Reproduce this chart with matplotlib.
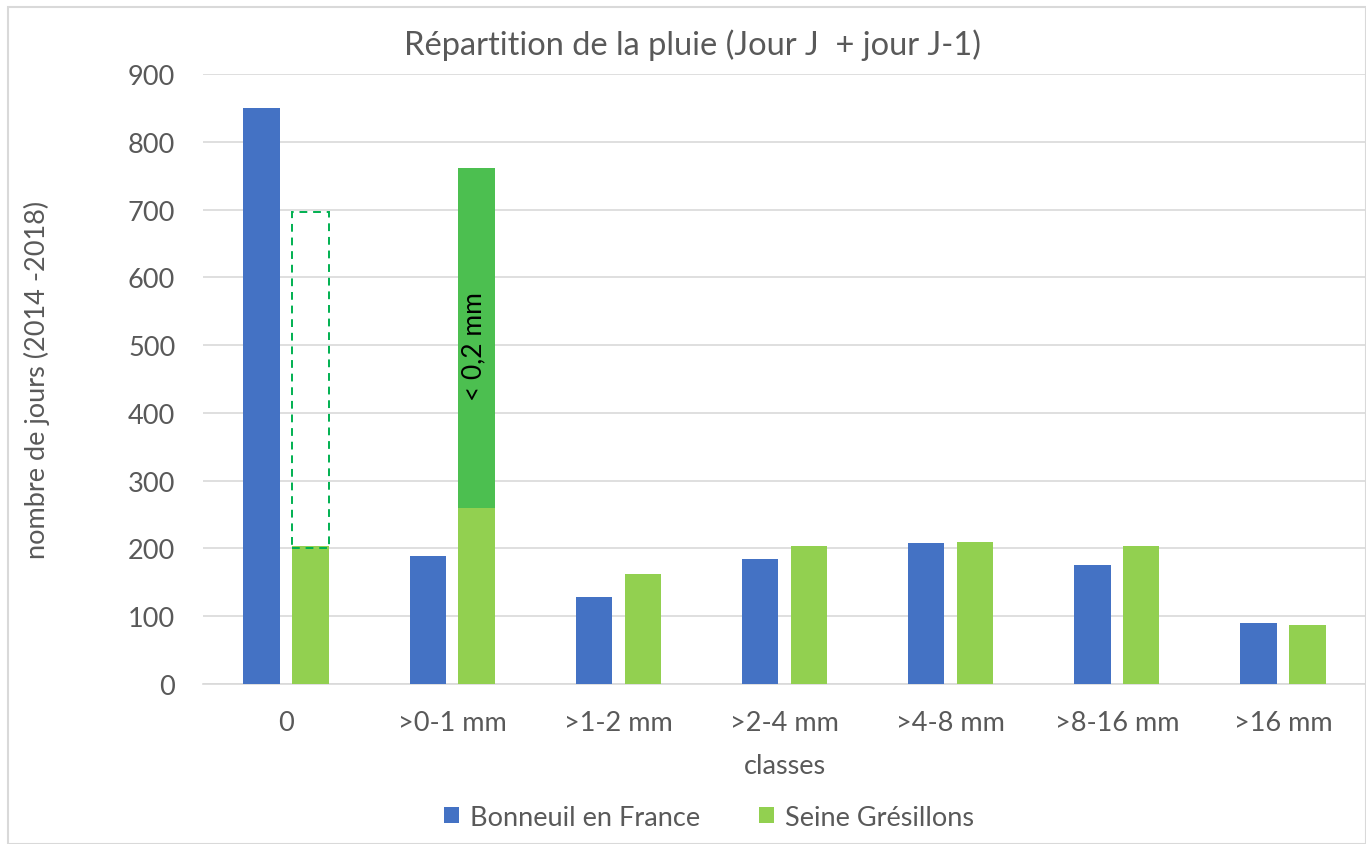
import numpy as np
import matplotlib.pyplot as plt
from matplotlib.patches import Rectangle

plt.rcParams['font.family'] = ['Lato', 'DejaVu Sans']

classes = ['0', '>0-1 mm', '>1-2 mm', '>2-4 mm', '>4-8 mm', '>8-16 mm', '>16 mm']
bonneuil = [850, 189, 129, 185, 208, 176, 90]
seine = [203, 260, 162, 204, 210, 204, 87]
# extra days under 0.2 mm counted in the >0-1 mm class for Seine Grésillons
seine_small = 501
# same amount removed from the "0" class (dashed outline)
seine_removed_top = 697

blue = '#4472C4'
green = '#92D050'
dark_green = '#4CBF50'
grey_txt = '#595959'
grid_col = '#D9D9D9'

x = np.arange(len(classes))
width = 0.22
off = 0.147

fig = plt.figure(figsize=(13.66, 8.45), dpi=100)
ax = fig.add_axes([203 / 1366, 1 - 685 / 845, (1366 - 203) / 1366, 610 / 845])

ax.bar(x - off, bonneuil, width, color=blue, label='Bonneuil en France', zorder=3)
ax.bar(x + off, seine, width, color=green, label='Seine Grésillons', zorder=3)
ax.bar(x[1] + off, seine_small, width, bottom=seine[1], color=dark_green, zorder=3)

# dashed box showing the days moved out of class "0"
ax.add_patch(Rectangle((x[0] + off - width / 2, 200), width, seine_removed_top - 200,
                       fill=False, edgecolor='#00B050', linestyle=(0, (4, 3)),
                       linewidth=1.4, zorder=4))

ax.text(x[1] + off - 0.02, seine[1] + 240, '< 0,2 mm', rotation=90, ha='center', va='center',
        fontsize=19, color='black', zorder=5)

ax.set_xlim(-0.5, len(classes) - 0.5)
ax.set_ylim(0, 900)
ax.set_yticks(range(0, 901, 100))
ax.set_xticks(x)
ax.set_xticklabels(classes)
ax.tick_params(axis='both', length=0, labelsize=19.5, colors=grey_txt)
ax.tick_params(axis='y', pad=20)
ax.tick_params(axis='x', pad=19)
ax.grid(axis='y', color=grid_col, linewidth=1.2, zorder=0)
for s in ['top', 'right', 'left']:
    ax.spines[s].set_visible(False)
ax.spines['bottom'].set_color(grid_col)
ax.spines['bottom'].set_linewidth(1.2)

ax.set_xlabel('classes', fontsize=19.5, color=grey_txt, labelpad=13)
ax.set_ylabel('nombre de jours (2014 -2018)', fontsize=19.5, color=grey_txt, labelpad=56)
fig.text(0.5 + 10 / 1366, 1 - 45 / 845, 'Répartition de la pluie (Jour J  + jour J-1)',
         ha='center', va='center', fontsize=23.5, color=grey_txt)

ax.legend(loc='upper center', bbox_to_anchor=(0.435, -0.158), ncol=2, frameon=False,
          fontsize=19.5, labelcolor=grey_txt, handlelength=0.55, handleheight=0.55,
          handletextpad=0.4, columnspacing=2.2)

# chart area border
fig.add_artist(Rectangle((8 / 1366, 0), 1 - 8 / 1366, 1 - 8 / 845, transform=fig.transFigure,
                         fill=False, edgecolor=grid_col, linewidth=1.5))

fig.savefig('out.png', dpi=100)
